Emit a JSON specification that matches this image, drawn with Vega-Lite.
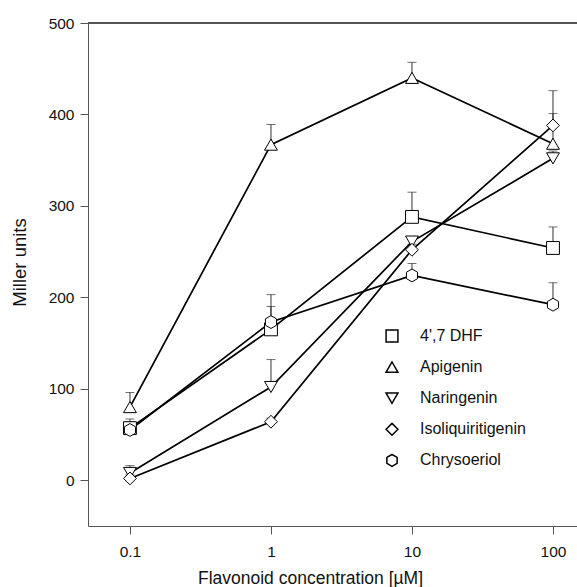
{
  "$schema": "https://vega.github.io/schema/vega-lite/v6.json",
  "width": 489,
  "height": 503,
  "autosize": {"type": "none"},
  "padding": {"left": 88, "top": 23, "right": 0, "bottom": 61},
  "background": "white",
  "config": {
    "view": {"stroke": null},
    "font": "Liberation Sans",
    "axis": {
      "grid": false,
      "domainColor": "#555555",
      "tickColor": "#555555",
      "tickSize": 8,
      "labelFont": "Liberation Sans",
      "labelFontSize": 15.5,
      "labelColor": "#111111",
      "titleFont": "Liberation Sans",
      "titleFontWeight": "normal",
      "titleColor": "#111111"
    }
  },
  "data": {
    "values": [
      {"series": "4',7 DHF", "conc": 0.1, "mean": 57, "top": 67},
      {"series": "4',7 DHF", "conc": 1, "mean": 165, "top": 190},
      {"series": "4',7 DHF", "conc": 10, "mean": 288, "top": 315},
      {"series": "4',7 DHF", "conc": 100, "mean": 254, "top": 277},
      {"series": "Apigenin", "conc": 0.1, "mean": 80, "top": 96},
      {"series": "Apigenin", "conc": 1, "mean": 367, "top": 389},
      {"series": "Apigenin", "conc": 10, "mean": 440, "top": 457},
      {"series": "Apigenin", "conc": 100, "mean": 368, "top": 401},
      {"series": "Naringenin", "conc": 0.1, "mean": 8, "top": 16},
      {"series": "Naringenin", "conc": 1, "mean": 102, "top": 132},
      {"series": "Naringenin", "conc": 10, "mean": 261, "top": 266},
      {"series": "Naringenin", "conc": 100, "mean": 352, "top": 360},
      {"series": "Isoliquiritigenin", "conc": 0.1, "mean": 2, "top": 6},
      {"series": "Isoliquiritigenin", "conc": 1, "mean": 64, "top": 68},
      {"series": "Isoliquiritigenin", "conc": 10, "mean": 252, "top": 258},
      {"series": "Isoliquiritigenin", "conc": 100, "mean": 388, "top": 426},
      {"series": "Chrysoeriol", "conc": 0.1, "mean": 55, "top": 64},
      {"series": "Chrysoeriol", "conc": 1, "mean": 173, "top": 203},
      {"series": "Chrysoeriol", "conc": 10, "mean": 224, "top": 237},
      {"series": "Chrysoeriol", "conc": 100, "mean": 192, "top": 216}
    ]
  },
  "encoding": {
    "x": {
      "field": "conc",
      "type": "quantitative",
      "scale": {"type": "log", "domain": [0.0504, 148], "nice": false, "zero": false},
      "axis": {
        "values": [0.1, 1, 10, 100],
        "format": "~g",
        "labelPadding": 10,
        "title": "Flavonoid concentration [µM]",
        "titleFontSize": 17.5,
        "titleX": 222,
        "titleY": 57,
        "titleBaseline": "alphabetic"
      }
    },
    "y": {
      "field": "mean",
      "type": "quantitative",
      "scale": {"domain": [-50, 500], "nice": false, "zero": false},
      "axis": {
        "values": [0, 100, 200, 300, 400, 500],
        "labelPadding": 6,
        "title": "Miller units",
        "titleFontSize": 18.5,
        "titleX": -59,
        "titleY": 239
      }
    }
  },
  "layer": [
    {
      "mark": {"type": "rule", "color": "#555555", "strokeWidth": 1},
      "encoding": {"y": {"datum": 500}, "x": null}
    },
    {
      "mark": {"type": "rule", "color": "#333333", "strokeWidth": 1},
      "encoding": {"y2": {"field": "top"}}
    },
    {
      "mark": {"type": "tick", "orient": "horizontal", "color": "#333333", "size": 9, "thickness": 1},
      "encoding": {"y": {"field": "top", "type": "quantitative"}}
    },
    {
      "mark": {"type": "line", "color": "black", "strokeWidth": 1.7},
      "encoding": {"detail": {"field": "series"}}
    },
    {
      "mark": {"type": "point", "filled": true, "fill": "white", "stroke": "black", "strokeWidth": 1, "size": 165, "opacity": 1},
      "encoding": {
        "shape": {
          "field": "series",
          "type": "nominal",
          "scale": {
            "domain": ["4',7 DHF", "Apigenin", "Naringenin", "Isoliquiritigenin", "Chrysoeriol"],
            "range": ["square", "triangle-up", "triangle-down", "diamond", "M0,-1L0.866,-0.5L0.866,0.5L0,1L-0.866,0.5L-0.866,-0.5Z"]
          },
          "legend": {
            "title": null,
            "orient": "none",
            "legendX": 296,
            "legendY": 305,
            "symbolSize": 140,
            "labelFont": "Liberation Sans",
            "labelFontSize": 16,
            "labelColor": "#111111",
            "labelOffset": 20,
            "rowPadding": 13.1,
            "encode": {
              "symbols": {
                "update": {
                  "fill": {"value": "white"},
                  "stroke": {"value": "black"},
                  "strokeWidth": {"value": 1},
                  "opacity": {"value": 1}
                }
              }
            }
          }
        }
      }
    }
  ]
}
